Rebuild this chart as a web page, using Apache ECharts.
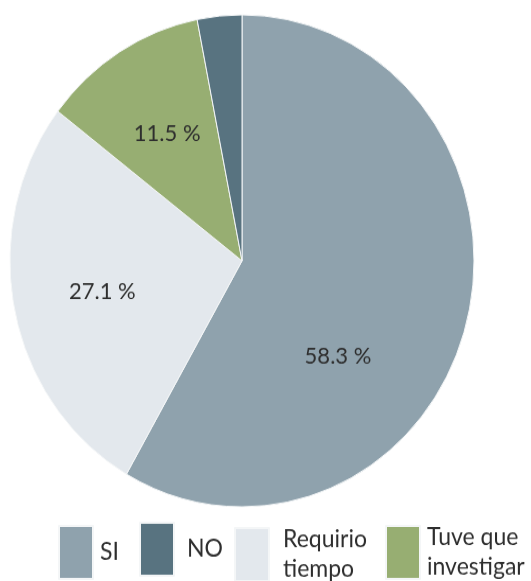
<!DOCTYPE html>
<html>
<head>
<meta charset="utf-8">
<script src="https://cdn.jsdelivr.net/npm/echarts@6/dist/echarts.min.js"></script>
<style>
  html, body { margin: 0; padding: 0; background: #fff; }
  #wrap { width: 531px; height: 581px; overflow: hidden; }
  /* el original está estirado en vertical (pastel elíptico) */
  #chart { width: 531px; height: 548px; transform: scaleY(1.0603); transform-origin: 0 0; }
</style>
</head>
<body>
<div id="wrap"><div id="chart"></div></div>
<script>
// datos de la gráfica (orden de las porciones, en sentido horario desde arriba)
var names = ['SI', 'Requirio\ntiempo', 'Tuve que\ninvestigar', 'NO'];
var values = [58.3, 27.1, 11.5, 3.1];
var colors = ['#8fa2ad', '#e3e8ed', '#97ae72', '#587380'];
var legendOrder = ['SI', 'NO', 'Requirio\ntiempo', 'Tuve que\ninvestigar'];
var legendLeft = [58, 139, 234, 385];
var legendTop = [495, 492, 495, 493];
var legendGap = [2, 8, 9, 2];

// desplazamiento de las etiquetas dentro de cada porción
var labelShift = [[-19, 59], [-23, 6], [-12, -19], [0, 0]];

var font = 'Lato';
var myChart = echarts.init(document.getElementById('chart'));

var legends = legendOrder.map(function (n, i) {
  return {
    data: [n],
    left: legendLeft[i],
    top: legendTop[i],
    padding: 0,
    itemWidth: 34,
    itemHeight: 50,
    icon: 'rect',
    selectedMode: false,
    textStyle: {
      fontFamily: font,
      fontSize: 23,
      lineHeight: 28,
      color: '#2e2e2e',
      padding: [0, 0, 0, legendGap[i]]
    }
  };
});

var option = {
  animation: false,
  legend: legends,
  series: [{
    type: 'pie',
    center: [242, 246],
    radius: 232,
    startAngle: 90,
    clockwise: true,
    itemStyle: { borderColor: '#f4f6f7', borderWidth: 1 },
    label: {
      position: 'inside',
      formatter: '{c} %',
      fontFamily: font,
      fontSize: 22,
      color: '#2e2e2e'
    },
    labelLine: { show: false },
    emphasis: { disabled: true },
    labelLayout: function (params) {
      var s = labelShift[params.dataIndex];
      return { dx: s[0], dy: s[1] };
    },
    data: names.map(function (n, i) {
      var item = { name: n, value: values[i], itemStyle: { color: colors[i] } };
      if (n === 'NO') item.label = { show: false };
      return item;
    })
  }]
};
myChart.setOption(option);
</script>
</body>
</html>
